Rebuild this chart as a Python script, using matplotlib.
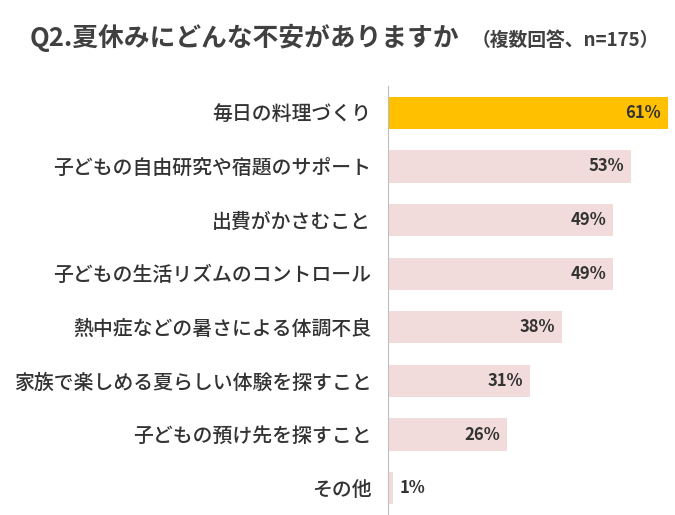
import matplotlib
matplotlib.use("Agg")
import matplotlib.pyplot as plt

plt.rcParams["font.family"] = "Noto Sans CJK JP"

categories = ["毎日の料理づくり", "子どもの自由研究や宿題のサポート", "出費がかさむこと",
              "子どもの生活リズムのコントロール", "熱中症などの暑さによる体調不良",
              "家族で楽しめる夏らしい体験を探すこと", "子どもの預け先を探すこと", "その他"]
values = [61, 53, 49, 49, 38, 31, 26, 1]
labels = ["61%", "53%", "49%", "49%", "38%", "31%", "26%", "1%"]

fig = plt.figure(figsize=(6.75, 5.15), dpi=100)
ax = fig.add_axes([388/675, 0, 280/675, 429/515])
colors = ["#FFC000"] + ["#F2DCDB"] * (len(values) - 1)
y = list(range(len(values)))
ax.barh(y, values, height=0.6, color=colors)
ax.set_ylim(len(values) - 0.5, -0.5)
ax.set_xlim(0, 61)
for i, (v, l) in enumerate(zip(values, labels)):
    if v > 5:
        ax.text(v - 1.5, i, l, ha="right", va="center", fontsize=12, fontweight="bold", color="#333333")
    else:
        ax.text(v + 1.5, i, l, ha="left", va="center", fontsize=12, fontweight="bold", color="#333333")
ax.set_yticks(y)
ax.set_yticklabels(categories, fontsize=14.3, fontweight="medium", color="#333333")
ax.tick_params(axis="y", length=0, pad=12)
ax.set_xticks([])
for s in ["top", "right", "bottom"]:
    ax.spines[s].set_visible(False)
ax.spines["left"].set_color("#BFBFBF")

fig.text(30/675, 1 - 38/515, "Q2.夏休みにどんな不安がありますか", fontsize=18.5, fontweight="bold",
         color="#404040", va="center", ha="left")
fig.text(472/675, 1 - 40/515, "（複数回答、n=175）", fontsize=13.5, fontweight="bold",
         color="#404040", va="center", ha="left")
fig.savefig("out.png", dpi=100)
